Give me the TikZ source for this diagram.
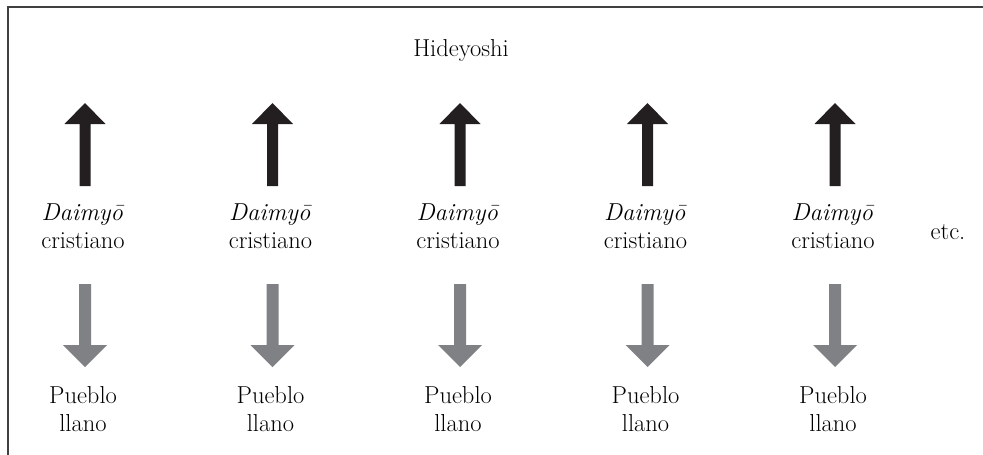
\documentclass[tikz,border=0pt]{standalone}
\begin{document}
\begin{tikzpicture}[x=1pt,y=-1pt,
  lbl/.style={anchor=base,inner sep=0pt,font=\fontsize{24.5}{28}\selectfont},
  uparrow/.style={fill={rgb,255:red,35;green,31;blue,32},draw=none},
  downarrow/.style={fill={rgb,255:red,128;green,129;blue,132},draw=none},
  frameline/.style={draw={rgb,255:red,64;green,64;blue,64},line width=1.8pt}]
\useasboundingbox (0,0) rectangle (983,455);
\draw[frameline] (983,7) -- (8,7) -- (8,455);
\node[lbl] (hide) at (461,56) {Hideyoshi};
\foreach \i/\x in {1/85,2/272.5,3/460,4/647.5,5/835}{
  \fill[uparrow] (\x-5.5,186) -- (\x-5.5,124) -- (\x-20.5,124) -- (\x,103)
     -- (\x+20.5,124) -- (\x+5.5,124) -- (\x+5.5,186) -- cycle;
  \node[lbl] (dai\i) at (\x-2,220) {\textit{Daimy\={o}}};
  \node[lbl] (cri\i) at (\x-2,248) {cristiano};
  \fill[downarrow] (\x-6,284) -- (\x-6,345) -- (\x-22,345) -- (\x,367)
     -- (\x+22,345) -- (\x+6,345) -- (\x+6,284) -- cycle;
  \node[lbl] (pue\i) at (\x-2,403) {Pueblo};
  \node[lbl] (lla\i) at (\x-2,431) {llano};
}
\node[lbl] (etc) at (948,239) {etc.};
\end{tikzpicture}
\end{document}
